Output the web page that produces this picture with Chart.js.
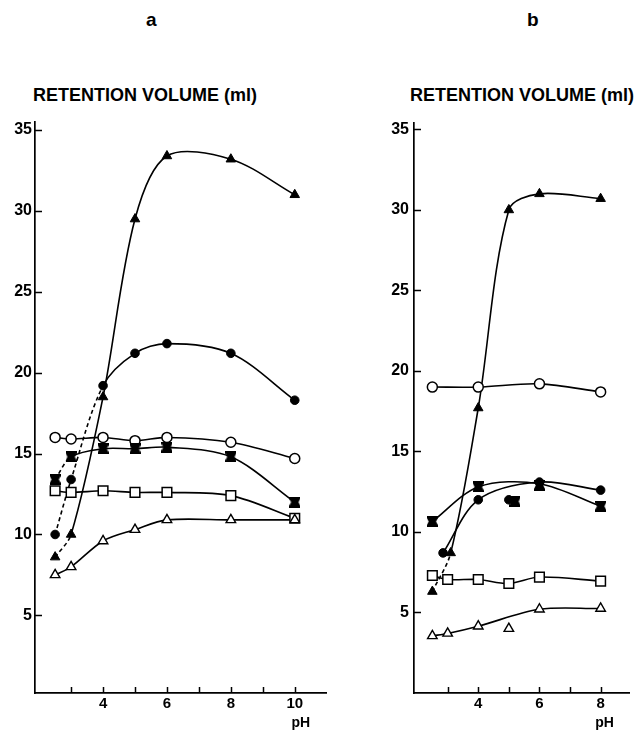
<!DOCTYPE html>
<html>
<head>
<meta charset="utf-8">
<script src="https://cdn.jsdelivr.net/npm/chart.js@4.4.1/dist/chart.umd.min.js"></script>
<style>
  html, body { margin: 0; padding: 0; background: #fff; }
  #wrap { position: relative; width: 638px; height: 731px; overflow: hidden;
          font-family: "Liberation Sans", Arial, sans-serif; color: #000; }
  canvas { position: absolute; top: 0; display: block; }
  .lbl { position: absolute; white-space: nowrap; font-weight: bold; line-height: 1; }
</style>
</head>
<body>
<div id="wrap">
  <div class="lbl" style="left:146px; top:10px; font-size:19px;">a</div>
  <div class="lbl" style="left:527px; top:10px; font-size:19px;">b</div>
  <div class="lbl" style="left:33px; top:86px; font-size:18px;">RETENTION VOLUME (ml)</div>
  <div class="lbl" style="left:410px; top:86px; font-size:18px;">RETENTION VOLUME (ml)</div>
  <canvas id="chartA" width="335" height="731" style="left:0px"></canvas>
  <canvas id="chartB" width="300" height="731" style="left:338px"></canvas>
</div>
<script>
// ---- Panel a : retention volume (ml) vs pH ----
const phA = [2.5, 3, 4, 5, 6, 8, 10];
const aFilledTriangle = [8.6, 10.0, 18.5, 29.5, 33.4, 33.2, 31.0];
const aFilledCircle   = [10.0, 13.4, 19.2, 21.2, 21.8, 21.2, 18.3];
const aOpenCircle     = [16.0, 15.9, 16.0, 15.8, 16.0, 15.7, 14.7];
const aFilledSquare   = [13.4, 14.8, 15.3, 15.3, 15.4, 14.8, 12.0];
const aOpenSquare     = [12.7, 12.6, 12.7, 12.6, 12.6, 12.4, 11.0];
const aOpenTriangle   = [7.5, 8.0, 9.6, 10.3, 10.9, 10.9, 10.9];

// ---- Panel b ----
const bOpenCirclePh     = [2.5, 4, 6, 8];
const bOpenCircle       = [19.0, 19.0, 19.2, 18.7];
const bFilledTrianglePh = [2.5, 3.1, 4, 5, 6, 8];
const bFilledTriangle   = [6.3, 8.7, 17.7, 30.0, 31.0, 30.7];
const bFilledCirclePh   = [2.85, 4, 5, 6, 8];
const bFilledCircle     = [8.7, 12.0, 12.0, 13.1, 12.6];
const bFilledCircleCurvePh = [2.85, 4, 6, 8];
const bFilledCircleCurve   = [8.7, 12.0, 13.1, 12.6];
const bFilledSquarePh   = [2.5, 4, 5.2, 6, 8];
const bFilledSquare     = [10.65, 12.8, 11.9, 12.9, 11.6];
const bFilledSquareCurvePh = [2.5, 4, 6, 8];
const bFilledSquareCurve   = [10.65, 12.8, 13.0, 11.6];
const bOpenSquarePh     = [2.5, 3, 4, 5, 6, 8];
const bOpenSquare       = [7.3, 7.05, 7.05, 6.8, 7.2, 6.95];
const bOpenTrianglePh   = [2.5, 3, 4, 5, 6, 8];
const bOpenTriangle     = [3.55, 3.7, 4.15, 4.0, 5.2, 5.25];
const bOpenTriangleCurvePh = [2.5, 3, 4, 6, 8];
const bOpenTriangleCurve   = [3.55, 3.7, 4.15, 5.2, 5.25];

// ---- Axis ticks ----
const yTicks  = [5, 10, 15, 20, 25, 30, 35];
const xTicksA = [3, 4, 5, 6, 7, 8, 9, 10];
const xLabelsA = [4, 6, 8, 10];
const xTicksB = [3, 4, 5, 6, 7, 8];
const xLabelsB = [4, 6, 8];

const FONT = '"Liberation Sans", Arial, sans-serif';

// filled square with slightly pinched sides (hourglass-like symbol)
function hourglassMarker() {
  const c = document.createElement('canvas');
  c.width = 11; c.height = 11;
  const g = c.getContext('2d');
  g.fillStyle = '#000';
  g.beginPath();
  g.moveTo(0, 0); g.lineTo(11, 0); g.lineTo(11, 2); g.lineTo(9.2, 5.5);
  g.lineTo(11, 9); g.lineTo(11, 11); g.lineTo(0, 11); g.lineTo(0, 9);
  g.lineTo(1.8, 5.5); g.lineTo(0, 2); g.closePath(); g.fill();
  return c;
}
const HOURGLASS = hourglassMarker();

const MARKERS = {
  openCircle:     { pointStyle: 'circle',   pointRadius: 5,   pointBackgroundColor: '#fff', pointBorderWidth: 1.5 },
  filledCircle:   { pointStyle: 'circle',   pointRadius: 4.3, pointBackgroundColor: '#000', pointBorderWidth: 1 },
  filledTriangle: { pointStyle: 'triangle', pointRadius: 5.5, pointBackgroundColor: '#000', pointBorderWidth: 1 },
  openTriangle:   { pointStyle: 'triangle', pointRadius: 5.5, pointBackgroundColor: '#fff', pointBorderWidth: 1.4 },
  openSquare:     { pointStyle: 'rect',     pointRadius: 6.8, pointBackgroundColor: '#fff', pointBorderWidth: 1.5 },
  filledSquare:   { pointStyle: HOURGLASS,  pointRadius: 5.5, pointBackgroundColor: '#000', pointBorderWidth: 0 }
};

function xy(xs, ys) { return xs.map((x, i) => ({ x: x, y: ys[i] })); }

// inward tick marks on both axes and the "pH" axis name
const axisDecor = {
  id: 'axisDecor',
  afterDraw(chart, args, opts) {
    const { ctx, chartArea } = chart;
    const xs = chart.scales.x, ys = chart.scales.y;
    ctx.save();
    ctx.strokeStyle = '#000';
    ctx.lineWidth = 1.5;
    ctx.beginPath();
    xs.ticks.forEach(t => {
      const px = Math.round(xs.getPixelForValue(t.value)) + 0.5;
      ctx.moveTo(px, chartArea.bottom);
      ctx.lineTo(px, chartArea.bottom - 6);
    });
    ys.ticks.forEach(t => {
      const py = Math.round(ys.getPixelForValue(t.value)) + 0.5;
      ctx.moveTo(chartArea.left, py);
      ctx.lineTo(chartArea.left + 7, py);
    });
    ctx.stroke();
    ctx.fillStyle = '#000';
    ctx.font = 'bold 14px ' + FONT;
    ctx.textAlign = 'center';
    ctx.textBaseline = 'alphabetic';
    ctx.fillText('pH', xs.getPixelForValue(opts.phAt) + opts.phShift, 727);
    ctx.restore();
  }
};

function buildChart(id, spec) {
  const datasets = [];
  spec.series.forEach(s => {
    datasets.push({
      data: xy(s.curvePh || s.ph, s.curveVal || s.val),
      borderColor: '#000',
      borderWidth: 1.6,
      pointRadius: 0,
      tension: 0.32,
      fill: false,
      clip: false,
      order: 2,
      segment: {
        borderDash: c => (s.dashTo != null && c.p1DataIndex <= s.dashTo) ? [4, 3] : undefined
      }
    });
    datasets.push(Object.assign({
      data: xy(s.ph, s.val),
      showLine: false,
      borderColor: '#000',
      clip: false,
      order: 1
    }, MARKERS[s.marker]));
  });

  return new Chart(document.getElementById(id), {
    type: 'line',
    data: { datasets: datasets },
    options: {
      responsive: false,
      animation: false,
      devicePixelRatio: 1,
      events: [],
      layout: { padding: spec.padding },
      plugins: {
        legend: { display: false },
        tooltip: { enabled: false },
        axisDecor: { phAt: spec.phAt, phShift: spec.phShift }
      },
      scales: {
        x: {
          type: 'linear',
          min: spec.xMin, max: spec.xMax,
          afterBuildTicks: sc => { sc.ticks = spec.xTicks.map(v => ({ value: v })); },
          afterFit: sc => { sc.height = 38; },
          ticks: {
            autoSkip: false, maxRotation: 0, padding: 2, color: '#000',
            font: { family: FONT, size: 15, weight: 'bold' },
            callback: v => spec.xLabels.includes(v) ? String(v) : ''
          },
          grid: { display: true, drawOnChartArea: false, drawTicks: false },
          border: { display: true, color: '#000', width: 1.7 }
        },
        y: {
          type: 'linear',
          min: spec.yMin, max: spec.yMax,
          afterBuildTicks: sc => { sc.ticks = yTicks.map(v => ({ value: v })); },
          afterFit: sc => { sc.width = 35; },
          ticks: {
            autoSkip: false, padding: spec.yPad, color: '#000',
            font: { family: FONT, size: 16, weight: 'bold' },
            callback: v => String(v)
          },
          grid: { display: true, drawOnChartArea: false, drawTicks: false },
          border: { display: true, color: '#000', width: 1.7 }
        }
      }
    },
    plugins: [axisDecor]
  });
}

buildChart('chartA', {
  padding: { top: 122, right: 5, bottom: 0, left: 0 },
  xMin: 1.87, xMax: 11, yMin: 0.2, yMax: 35.5, yPad: 3,
  xTicks: xTicksA, xLabels: xLabelsA, phAt: 10, phShift: 6,
  series: [
    { marker: 'openTriangle',   ph: phA, val: aOpenTriangle },
    { marker: 'openSquare',     ph: phA, val: aOpenSquare },
    { marker: 'filledSquare',   ph: phA, val: aFilledSquare, dashTo: 1 },
    { marker: 'openCircle',     ph: phA, val: aOpenCircle },
    { marker: 'filledCircle',   ph: phA, val: aFilledCircle, dashTo: 2 },
    { marker: 'filledTriangle', ph: phA, val: aFilledTriangle, dashTo: 1 }
  ]
});

buildChart('chartB', {
  padding: { top: 123, right: 1, bottom: 0, left: 41 },
  xMin: 1.9, xMax: 8.95, yMin: 0, yMax: 35.4, yPad: 5,
  xTicks: xTicksB, xLabels: xLabelsB, phAt: 8, phShift: 4,
  series: [
    { marker: 'openTriangle',   ph: bOpenTrianglePh, val: bOpenTriangle,
      curvePh: bOpenTriangleCurvePh, curveVal: bOpenTriangleCurve },
    { marker: 'openSquare',     ph: bOpenSquarePh, val: bOpenSquare },
    { marker: 'filledSquare',   ph: bFilledSquarePh, val: bFilledSquare,
      curvePh: bFilledSquareCurvePh, curveVal: bFilledSquareCurve },
    { marker: 'openCircle',     ph: bOpenCirclePh, val: bOpenCircle },
    { marker: 'filledCircle',   ph: bFilledCirclePh, val: bFilledCircle,
      curvePh: bFilledCircleCurvePh, curveVal: bFilledCircleCurve },
    { marker: 'filledTriangle', ph: bFilledTrianglePh, val: bFilledTriangle, dashTo: 1 }
  ]
});
</script>
</body>
</html>
